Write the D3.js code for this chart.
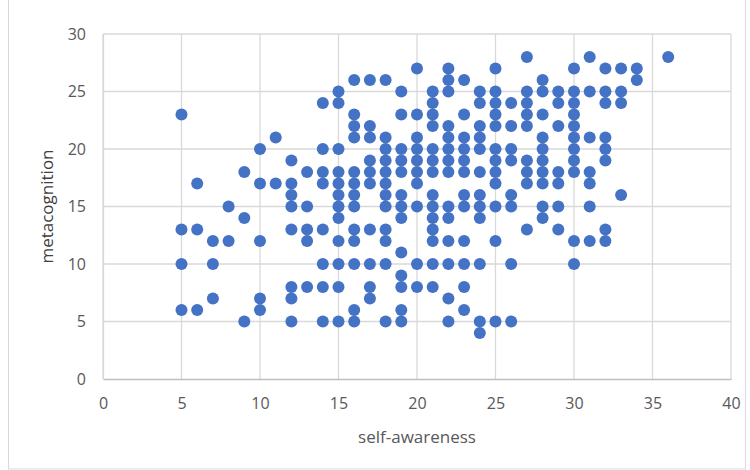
<!DOCTYPE html>
<html>
<head>
<meta charset="utf-8">
<script src="https://cdn.jsdelivr.net/npm/d3@7"></script>
<style>
  body { margin: 0; background: #fff; }
  text { font-family: "Liberation Sans Narrow", "Open Sans", sans-serif; }
</style>
</head>
<body>
<div id="chart"></div>
<script>
// self-awareness score -> metacognition scores observed at that score
const awareness = [5, 6, 7, 8, 9, 10, 11, 12, 13, 14, 15, 16, 17, 18, 19, 20,
  21, 22, 23, 24, 25, 26, 27, 28, 29, 30, 31, 32, 33, 34, 36];
const metacognition = [
  [23, 13, 10, 6],
  [17, 13, 6],
  [12, 10, 7],
  [15, 12],
  [18, 14, 5],
  [20, 17, 12, 7, 6],
  [21, 17],
  [19, 17, 16, 15, 13, 8, 7, 5],
  [18, 15, 13, 12, 8],
  [24, 20, 18, 17, 13, 10, 8, 5],
  [25, 24, 20, 18, 17, 16, 15, 14, 12, 10, 8, 5],
  [26, 23, 22, 21, 18, 17, 16, 15, 13, 12, 10, 6, 5],
  [26, 22, 21, 19, 18, 17, 13, 10, 8, 7],
  [26, 21, 20, 19, 18, 17, 16, 15, 13, 12, 10, 5],
  [25, 23, 20, 19, 18, 16, 15, 14, 11, 9, 8, 6, 5],
  [27, 23, 21, 20, 19, 18, 17, 15, 10, 8],
  [25, 24, 23, 22, 20, 19, 18, 16, 15, 14, 13, 12, 10, 8],
  [27, 26, 25, 22, 21, 20, 19, 18, 15, 14, 12, 10, 7, 5],
  [26, 23, 21, 20, 19, 18, 16, 15, 12, 10, 8, 6],
  [25, 24, 22, 21, 20, 18, 16, 15, 14, 10, 5, 4],
  [27, 25, 24, 23, 22, 20, 19, 18, 17, 15, 12, 5],
  [24, 22, 20, 19, 16, 15, 10, 5],
  [28, 25, 24, 23, 22, 19, 18, 17, 13],
  [26, 25, 23, 21, 20, 19, 18, 17, 15, 14],
  [25, 24, 22, 18, 17, 15, 13],
  [27, 25, 24, 23, 22, 21, 20, 19, 18, 12, 10],
  [28, 25, 21, 18, 17, 15, 12],
  [27, 25, 24, 21, 20, 19, 13, 12],
  [27, 25, 24, 16],
  [27, 26],
  [28]
];
const xTicks = [0, 5, 10, 15, 20, 25, 30, 35, 40];
const yTicks = [0, 5, 10, 15, 20, 25, 30];

const points = [];
awareness.forEach((a, i) => {
  metacognition[i].forEach(m => points.push({ a: a, m: m }));
});

const width = 750;
const height = 470;
const margin = { left: 103, right: 19, top: 34, bottom: 91 };

const svg = d3.select("#chart")
  .append("svg")
  .attr("width", width)
  .attr("height", height);

// chart frame
svg.append("rect")
  .attr("x", 8.5)
  .attr("y", -1)
  .attr("width", 737)
  .attr("height", 470)
  .attr("fill", "none")
  .attr("stroke", "#d9d9d9");

const xScale = d3.scaleLinear()
  .domain([0, 40])
  .range([margin.left, width - margin.right]);

const yScale = d3.scaleLinear()
  .domain([0, 30])
  .range([height - margin.bottom, margin.top]);

// gridlines
svg.append("g")
  .selectAll("line")
  .data(xTicks)
  .enter()
  .append("line")
  .attr("x1", d => xScale(d))
  .attr("x2", d => xScale(d))
  .attr("y1", yScale(0))
  .attr("y2", yScale(30))
  .attr("stroke", "#d9d9d9")
  .attr("stroke-width", 1.3);

svg.append("g")
  .selectAll("line")
  .data(yTicks.filter(d => d > 0))
  .enter()
  .append("line")
  .attr("x1", xScale(0))
  .attr("x2", xScale(40))
  .attr("y1", d => yScale(d))
  .attr("y2", d => yScale(d))
  .attr("stroke", "#d9d9d9")
  .attr("stroke-width", 1.3);

// axes
const xAxis = svg.append("g")
  .attr("transform", `translate(0,${yScale(0)})`)
  .call(d3.axisBottom(xScale).tickValues(xTicks).tickSize(0).tickPadding(19));

const yAxis = svg.append("g")
  .attr("transform", `translate(${xScale(0)},0)`)
  .call(d3.axisLeft(yScale).tickValues(yTicks).tickSize(0).tickPadding(17));

xAxis.select(".domain").attr("stroke", "#bfbfbf").attr("stroke-width", 1.3);
yAxis.select(".domain").attr("stroke", "#d9d9d9").attr("stroke-width", 1.3);
svg.selectAll(".tick text")
  .attr("fill", "#595959")
  .style("font-size", "16px")
  .style("font-family", "'Liberation Sans Narrow', 'Open Sans', sans-serif");

// axis titles
svg.append("text")
  .attr("x", (xScale(0) + xScale(40)) / 2)
  .attr("y", 443)
  .attr("text-anchor", "middle")
  .attr("fill", "#595959")
  .style("font-size", "17px")
  .text("self-awareness");

svg.append("text")
  .attr("transform", `translate(53,${(yScale(0) + yScale(30)) / 2}) rotate(-90)`)
  .attr("text-anchor", "middle")
  .attr("fill", "#404040")
  .style("font-size", "17px")
  .text("metacognition");

// points
svg.append("g")
  .selectAll("circle")
  .data(points)
  .enter()
  .append("circle")
  .attr("cx", d => xScale(d.a))
  .attr("cy", d => yScale(d.m))
  .attr("r", 6)
  .attr("fill", "#4472c4");
</script>
</body>
</html>
